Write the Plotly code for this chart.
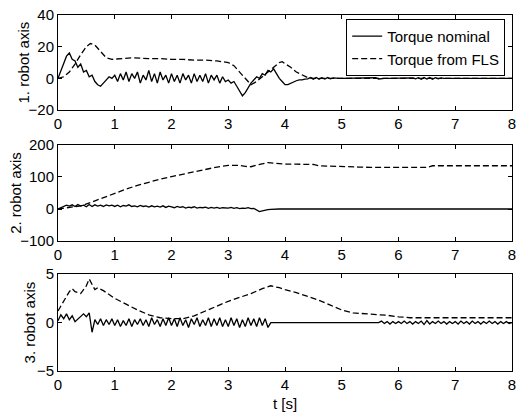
import plotly.graph_objects as go
from plotly.subplots import make_subplots

# sample times for the measured (noisy) nominal torques, 0.05 s step
t_nom = [round(i * 0.05, 2) for i in range(161)]

# 1. robot axis, nominal torque (one row = one second)
nom1 = [0, 5, 10, 14, 16, 12, 11, 7, 9, 4, 5, 1, 2, -2, -4, -5, -3, -1, 1, 0,
        2, -2, 3, -1, 4, -2, 3, 0, 4, -3, 2, -1, 5, -2, 3, -3, 4, -1, 2, -3,
        3, -2, 2, -3, 3, -1, 2, -3, 3, -2, 2, -2, 3, -3, 2, -1, 2, -3, 1, -2,
        -1, -3, -2, -5, -8, -11, -9, -6, -3, -1, 1, 0, 3, 2, 5, 4, 6, 3, 0, -2,
        -4, -4, -3, -2, -1.5, -1, -1, -0.5, -0.3, 0.5, -0.5, 0.6, -0.5, 0.4, -0.4, 0.5, -0.3, 0.3, 0, 0,
        0, 0, 0, 0, 0, 0, 0, 0, 0, 0, 0, 0, 0.4, -0.4, 0, 0, 0, 0, 0, 0,
        0, 0, 0, 0, 0, 0.3, -0.3, 0.4, -0.5, 0.5, -0.4, 0.5, -0.5, 0.4, -0.3, 0.3, 0, 0, 0, 0,
        0, 0, 0, 0, 0, 0, 0, 0, 0, 0, 0, 0, 0, 0, 0, 0, 0, 0, 0, 0,
        0]

# 2. robot axis, nominal torque
nom2 = [0, 4, 8, 12, 9, 13, 8, 14, 9, 12, 7, 14, 8, 13, 9, 12, 8, 13, 10, 12,
        8, 12, 7, 11, 9, 13, 8, 10, 7, 11, 8, 10, 6, 10, 7, 9, 6, 10, 5, 9,
        7, 4, 8, 5, 7, 3, 6, 4, 7, 3, 5, 4, 6, 2, 5, 3, 5, 2, 4, 3,
        3, 5, 2, 4, 1, 3, 2, 4, 1, 2, -2, -8, -6, -3, -2, -1, 0, 0, 0, 0,
        0, 0, 0, 0, 0, 0, 0, 0, 0, 0, 0, 0, 0, 0, 0, 0, 0, 0, 0, 0,
        0, 0, 0, 0, 0, 0, 0, 0, 0, 0, 0, 0, 0, 0, 0, 0, 0, 0, 0, 0,
        0, 0, 0, 0, 0, 0, 0, 0, 0, 0, 0, 0, 0, 0, 0, 0, 0, 0, 0, 0,
        0, 0, 0, 0, 0, 0, 0, 0, 0, 0, 0, 0, 0, 0, 0, 0, 0, 0, 0, 0,
        0]

# 3. robot axis, nominal torque
nom3 = [0.2, 0.8, 0.4, 0.9, 0.3, 0.7, 0.1, 0.4, 0.6, 0.9, 0.6, 1.0, -1.0, 0.3, -0.2, 0.4, -0.3, 0.3, -0.2, 0.4,
        -0.3, 0.3, -0.4, 0.2, -0.3, 0.4, -0.4, 0.3, -0.2, 0.4, -0.3, 0.3, -0.4, 0.5, -0.2, 0.3, -0.4, 0.4, -0.3, 0.5,
        -0.3, 0.4, -0.4, 0.5, -0.3, 0.3, -0.5, 0.4, -0.2, 0.5, -0.4, 0.3, -0.3, 0.5, -0.4, 0.4, -0.3, 0.5, -0.4, 0.3,
        -0.4, 0.5, -0.3, 0.4, -0.5, 0.3, -0.4, 0.5, -0.3, 0.4, -0.4, 0.5, -0.3, 0.4, -0.5, 0, 0, 0, 0, 0,
        0, 0, 0, 0, 0, 0, 0, 0, 0, 0, 0, 0, 0, 0, 0, 0, 0, 0, 0, 0,
        0, 0, 0, 0, 0, 0, 0, 0, 0, 0, 0, 0, 0, 0, 0.15, -0.1, 0.1, -0.15, 0.1, -0.1,
        0.1, -0.1, 0.15, -0.1, 0.1, -0.15, 0.1, -0.1, 0.15, -0.2, 0.2, -0.15, 0.1, -0.1, 0.15, -0.1, 0.1, -0.15, 0.1, -0.1,
        0.1, -0.15, 0.15, -0.1, 0.1, -0.15, 0.15, -0.1, 0.1, -0.15, 0.1, -0.1, 0.15, -0.1, 0.1, -0.15, 0.1, -0.1, 0.1, -0.1,
        0]

# torques from the fuzzy logic system
t_fls1 = [0, 0.1, 0.2, 0.3, 0.4, 0.5, 0.57, 0.65, 0.75, 0.85, 0.95, 1.1, 1.3, 1.6, 1.8, 2.0,
          2.2, 2.4, 2.6, 2.8, 3.0, 3.1, 3.2, 3.3, 3.4, 3.5, 3.6, 3.7, 3.8, 3.9, 3.95,
          4.0, 4.1, 4.2, 4.3, 4.4, 4.5, 4.7, 5.0, 6.0, 7.0, 8.0]
fls1 = [0, 1, 4, 9, 15, 20, 22, 21, 17, 13, 12, 12.5, 13, 12.5, 12.5, 12,
        12, 11.5, 11.5, 11, 10, 8, 4, 0, -4, -2, 1, 4, 7, 10, 10.5,
        9.5, 7, 4, 2, 0.5, 0, 0, 0, 0, 0, 0]

t_fls2 = [0, 0.2, 0.4, 0.6, 0.8, 1.0, 1.2, 1.4, 1.6, 1.8, 2.0, 2.2, 2.4, 2.6, 2.8, 3.0, 3.2,
          3.3, 3.4, 3.5, 3.6, 3.7, 3.8, 4.0, 4.2, 4.5, 4.6, 5.0, 5.3, 5.5, 6.0, 6.5, 6.6, 7.0, 8.0]
fls2 = [0, 4, 10, 22, 36, 50, 62, 74, 84, 93, 101, 109, 117, 124, 131, 136, 136,
        133, 132, 137, 142, 145, 143, 140, 140, 139, 135, 134, 131, 130, 130, 130, 135, 135, 135]

t_fls3 = [0, 0.1, 0.2, 0.25, 0.3, 0.4, 0.5, 0.55, 0.6, 0.65, 0.7, 0.8, 0.9, 1.0, 1.2, 1.4,
          1.6, 1.8, 2.0, 2.2, 2.4, 2.6, 2.8, 3.0, 3.2, 3.4, 3.6, 3.75, 3.9, 4.0, 4.2, 4.4,
          4.6, 4.8, 5.0, 5.2, 5.5, 5.8, 6.0, 6.2, 7.0, 8.0]
fls3 = [1.2, 2.2, 3.2, 3.5, 3.2, 3.0, 3.8, 4.5, 4.0, 3.4, 3.6, 3.3, 2.9, 2.5, 1.9, 1.3,
        0.8, 0.5, 0.4, 0.4, 0.7, 1.2, 1.7, 2.2, 2.6, 3.0, 3.5, 3.8, 3.6, 3.4, 3.1, 2.7,
        2.3, 1.8, 1.3, 1.0, 0.9, 0.75, 0.6, 0.5, 0.5, 0.5]

y_titles = ["1. robot axis", "2. robot axis", "3. robot axis"]
y_ranges = [[-20, 40], [-100, 200], [-5, 5]]
y_ticks = [[-20, 0, 20, 40], [-100, 0, 100, 200], [-5, 0, 5]]
x_ticks = [0, 1, 2, 3, 4, 5, 6, 7, 8]

fig = make_subplots(rows=3, cols=1)

noms = [nom1, nom2, nom3]
fls_t = [t_fls1, t_fls2, t_fls3]
fls_y = [fls1, fls2, fls3]
for i in range(3):
    fig.add_trace(go.Scatter(x=t_nom, y=noms[i], mode='lines', name='Torque nominal',
                             line=dict(color='black', width=1.3), showlegend=(i == 0)),
                  row=i + 1, col=1)
    fig.add_trace(go.Scatter(x=fls_t[i], y=fls_y[i], mode='lines', name='Torque from FLS',
                             line=dict(color='black', width=1.3, dash='6px,3px'),
                             showlegend=(i == 0)),
                  row=i + 1, col=1)

domains = [[0.733, 1.0], [0.365, 0.635], [0.0, 0.272]]
# y titles sit at different distances, following the width of each panel's tick labels
title_x = [-0.075, -0.095, -0.062]
for i in range(3):
    fig.update_yaxes(range=y_ranges[i], tickvals=y_ticks[i], domain=domains[i],
                     row=i + 1, col=1)
    fig.add_annotation(text=y_titles[i], xref='paper', yref='paper',
                       x=title_x[i], y=sum(domains[i]) / 2, xanchor='center',
                       yanchor='middle', textangle=-90, showarrow=False,
                       font=dict(size=15, color='black'))

axis_style = dict(showline=True, linecolor='black', linewidth=1, mirror='ticks',
                  ticks='inside', ticklen=4, tickcolor='black', showgrid=False,
                  zeroline=False, ticklabeloverflow='allow', automargin=False,
                  tickfont=dict(size=15, color='black'))
fig.update_xaxes(range=[0, 8], tickvals=x_ticks, **axis_style)
fig.update_yaxes(**axis_style)
fig.update_xaxes(title_text="t [s]", title_font=dict(size=15, color='black'),
                 title_standoff=8, row=3, col=1)

fig.update_layout(
    width=518, height=412,
    margin=dict(l=58, r=6, t=15, b=41),
    font=dict(family="Arial, Liberation Sans", size=15, color='black'),
    plot_bgcolor='white', paper_bgcolor='white',
    legend=dict(x=0.985, y=0.989, xanchor='right', yanchor='top',
                bgcolor='white', bordercolor='black', borderwidth=1,
                font=dict(size=15), tracegroupgap=0, itemwidth=30),
)

# page body has a default 8px margin; remove it so the figure fills the window
fig.write_html("out.html", config={'displayModeBar': False},
               post_script="document.body.style.margin='0';")
